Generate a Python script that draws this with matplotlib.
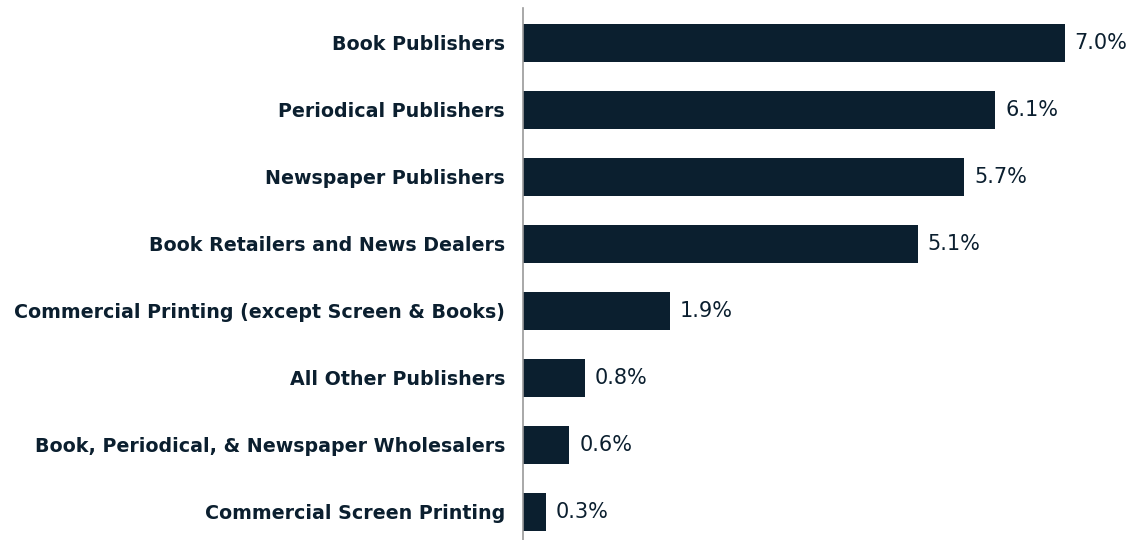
import numpy as np
import matplotlib.pyplot as plt

# Données
categories = [
    "Book Publishers",
    "Periodical Publishers",
    "Newspaper Publishers",
    "Book Retailers and News Dealers",
    "Commercial Printing (except Screen & Books)",
    "All Other Publishers",
    "Book, Periodical, & Newspaper Wholesalers",
    "Commercial Screen Printing",
]
values = [7.0, 6.1, 5.7, 5.1, 1.9, 0.8, 0.6, 0.3]
value_labels = ["7.0%", "6.1%", "5.7%", "5.1%", "1.9%", "0.8%", "0.6%", "0.3%"]

navy = "#0b1f2f"
plt.rcParams['font.family'] = ['DejaVu Sans']

W, H, DPI = 1131, 540, 100
fig = plt.figure(figsize=(W / DPI, H / DPI), dpi=DPI)
ax = fig.add_axes([523 / W, 0, 1 - 523 / W, 1 - 8 / H])

y = np.arange(len(categories))
ax.barh(y, values, height=0.567, color=navy)

ax.set_xlim(0, 608 / 77.43)
ax.set_ylim(7.418, -0.522)

for yi, v, lab in zip(y, values, value_labels):
    ax.annotate(lab, (v, yi), xytext=(7, 0), textcoords="offset points",
                va="center", ha="left", fontsize=15, color=navy)

ax.set_yticks(y)
ax.set_yticklabels(categories, fontsize=13.7, fontweight="bold", color=navy)
ax.tick_params(axis="y", length=0, pad=13)
ax.set_xticks([])

for s in ["top", "right", "bottom"]:
    ax.spines[s].set_visible(False)
ax.spines["left"].set_color("#9a9a9a")
ax.spines["left"].set_linewidth(1.2)

fig.savefig("out.png", dpi=DPI)
